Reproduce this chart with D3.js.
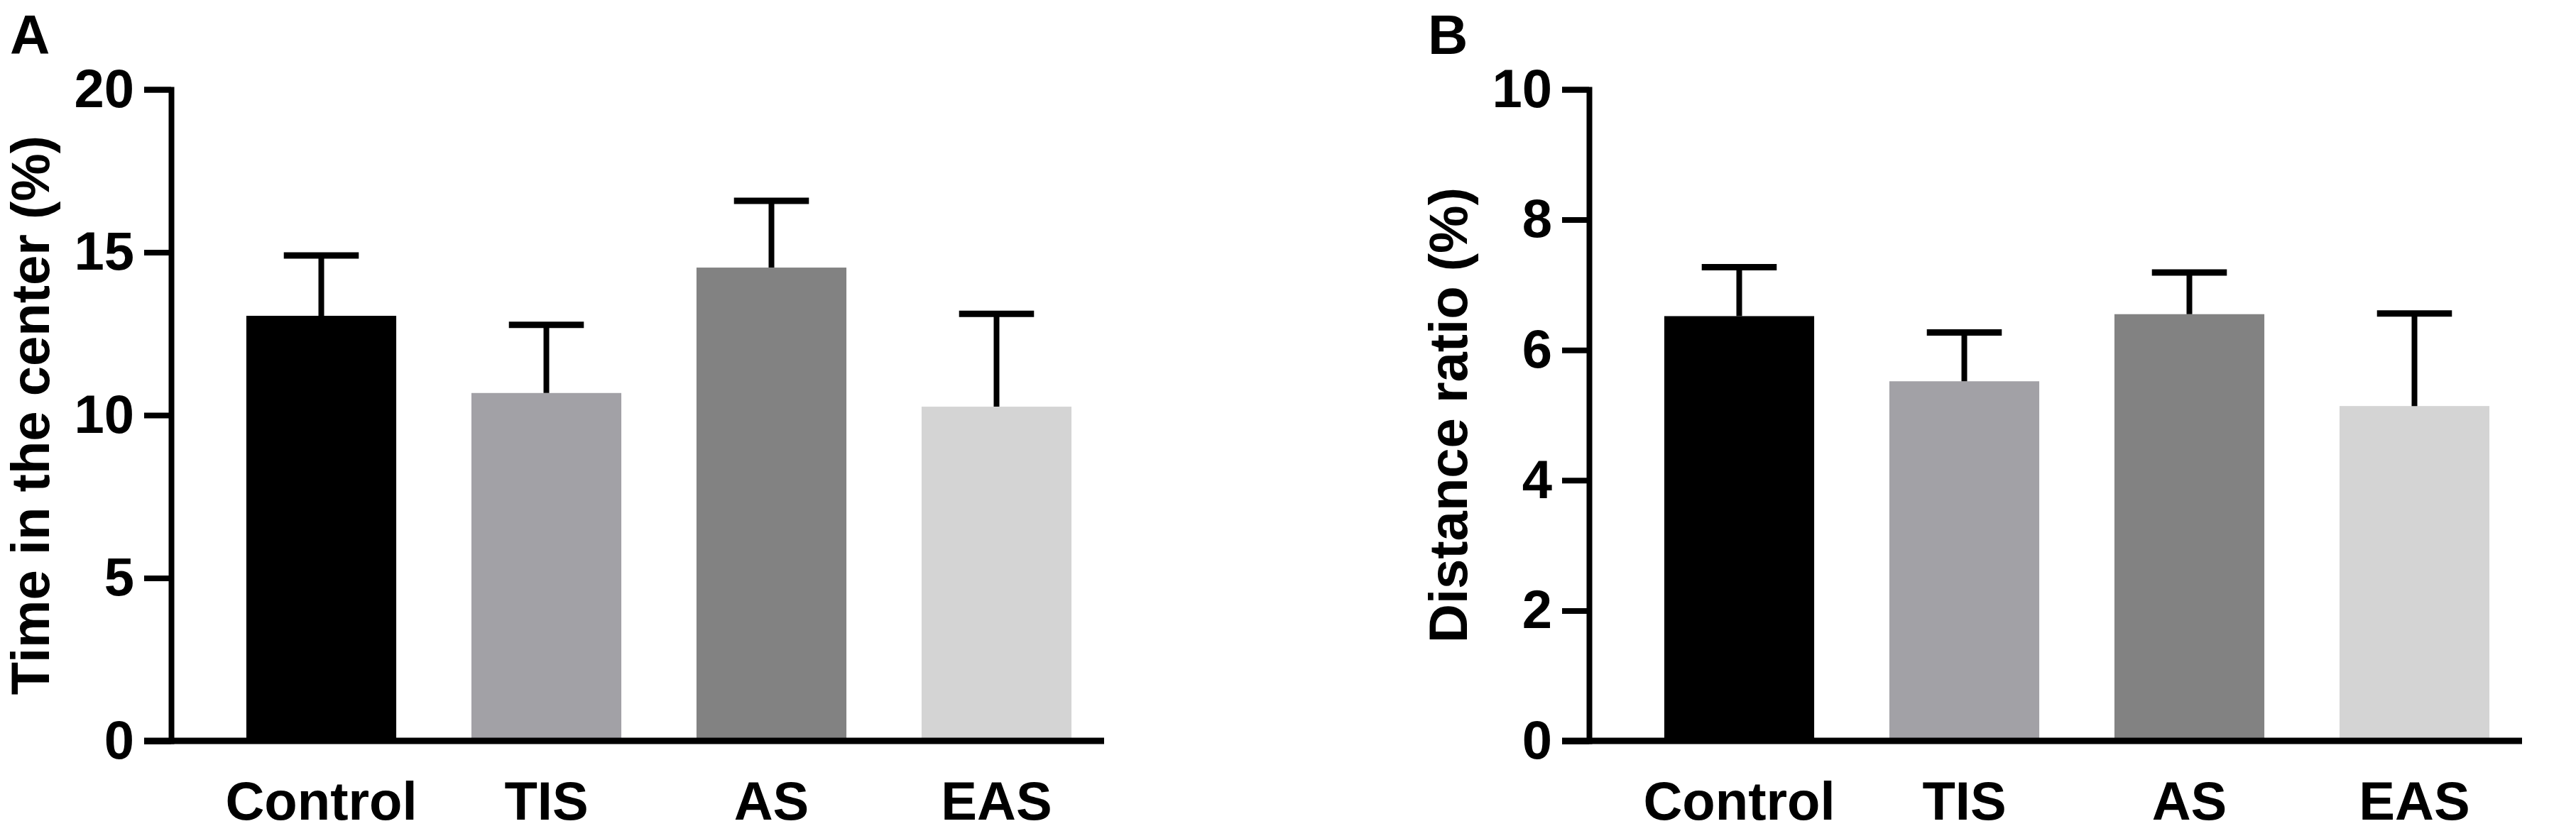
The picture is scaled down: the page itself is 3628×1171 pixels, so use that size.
<!DOCTYPE html>
<html>
<head>
<meta charset="utf-8">
<script src="https://cdn.jsdelivr.net/npm/d3@7"></script>
<style>
  body { margin: 0; background: #fff; }
  text { font-family: "Liberation Sans", Arial, sans-serif; font-weight: bold; fill: #000; }
</style>
</head>
<body>
<div id="canvas"></div>
<script>
// groups + colours
const groups = ["Control", "TIS", "AS", "EAS"];
const barColors = ["#000000", "#a2a1a6", "#828282", "#d4d4d4"];

// panel A: time in the center (%)
const timeMean = [13.05, 10.68, 14.53, 10.26];
const timeErr = [14.9, 12.77, 16.58, 13.11];
const timeTicks = [0, 5, 10, 15, 20];

// panel B: distance ratio (%)
const distMean = [6.52, 5.52, 6.55, 5.14];
const distErr = [7.27, 6.27, 7.19, 6.56];
const distTicks = [0, 2, 4, 6, 8, 10];

const W = 3628, H = 1171;
const svg = d3.select("#canvas").append("svg")
    .attr("width", W)
    .attr("height", H);

const yTop = 126, yBottom = 1044;
const axisW = 1314;   // length of the baseline right of the y axis
const tickLen = 38;
const lw = 8;

function panel(letter, axisX, title, means, errs, ticks, yMax) {
    const g = svg.append("g").attr("transform", `translate(${axisX},0)`);

    const y = d3.scaleLinear().domain([0, yMax]).range([yBottom, yTop]);
    const x = d3.scaleBand().domain(groups)
        .range([53, 53 + 4 * 317])
        .paddingInner(0.334)
        .paddingOuter(0.167);

    const data = groups.map((k, i) => ({ k, m: means[i], e: errs[i], c: barColors[i] }));

    // bars
    g.selectAll("rect.bar")
        .data(data).enter().append("rect")
        .attr("class", "bar")
        .attr("x", d => x(d.k))
        .attr("width", x.bandwidth())
        .attr("y", d => y(d.m))
        .attr("height", d => y(0) - y(d.m))
        .attr("fill", d => d.c);

    // upper error bars
    const capW = x.bandwidth() / 2;
    g.selectAll("line.err")
        .data(data).enter().append("line")
        .attr("class", "err")
        .attr("x1", d => x(d.k) + x.bandwidth() / 2)
        .attr("x2", d => x(d.k) + x.bandwidth() / 2)
        .attr("y1", d => y(d.m))
        .attr("y2", d => y(d.e))
        .attr("stroke", "#000")
        .attr("stroke-width", lw);
    g.selectAll("line.cap")
        .data(data).enter().append("line")
        .attr("class", "cap")
        .attr("x1", d => x(d.k) + x.bandwidth() / 2 - capW / 2)
        .attr("x2", d => x(d.k) + x.bandwidth() / 2 + capW / 2)
        .attr("y1", d => y(d.e))
        .attr("y2", d => y(d.e))
        .attr("stroke", "#000")
        .attr("stroke-width", lw + 1);

    // baseline
    g.append("line")
        .attr("x1", -tickLen).attr("x2", axisW)
        .attr("y1", y(0)).attr("y2", y(0))
        .attr("stroke", "#000")
        .attr("stroke-width", lw + 1);

    // y axis
    const yAxis = g.append("g")
        .call(d3.axisLeft(y).tickValues(ticks).tickSize(tickLen).tickSizeOuter(tickLen).tickPadding(14));
    yAxis.select(".domain").attr("stroke-width", lw).attr("stroke-linejoin", "miter");
    yAxis.selectAll(".tick line").attr("stroke-width", lw);
    yAxis.selectAll(".tick text")
        .style("font-size", "76px")
        .attr("font-family", null);

    // x axis labels
    const xAxis = g.append("g")
        .attr("transform", `translate(0,${y(0)})`)
        .call(d3.axisBottom(x).tickSize(0).tickPadding(57));
    xAxis.select(".domain").remove();
    xAxis.selectAll(".tick text")
        .style("font-size", "76px")
        .attr("font-family", null);

    // y title
    g.append("text")
        .attr("transform", `translate(${-199},${(yTop + yBottom) / 2}) rotate(-90)`)
        .attr("text-anchor", "middle")
        .attr("dy", "0.35em")
        .style("font-size", "76px")
        .text(title);

    // panel letter
    svg.append("text")
        .attr("x", axisX - 227)
        .attr("y", 76)
        .style("font-size", "78px")
        .text(letter);
}

panel("A", 241, "Time in the center (%)", timeMean, timeErr, timeTicks, 20);
panel("B", 2238, "Distance ratio (%)", distMean, distErr, distTicks, 10);
</script>
</body>
</html>
